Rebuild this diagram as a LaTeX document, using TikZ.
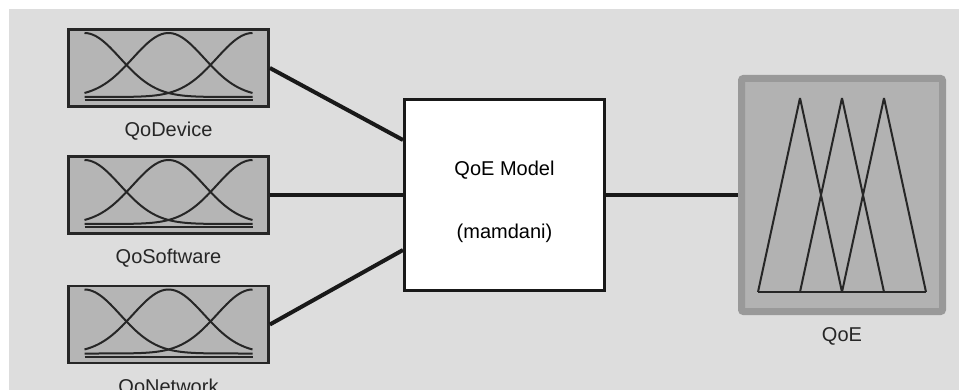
\documentclass[tikz,border=0pt]{standalone}
\usepackage{fontspec}
\setmainfont{Liberation Sans}
\usetikzlibrary{positioning}
\definecolor{panel}{gray}{0.865}
\definecolor{mfgray}{gray}{0.71}
\definecolor{outrim}{gray}{0.6}
\definecolor{outfill}{gray}{0.7}

\begin{document}
\begin{tikzpicture}[
x=0.5pt, y=-0.5pt,
font=\fontsize{10}{12}\selectfont,
inbox/.style={draw=black!85, line width=1.4pt, fill=mfgray,
    minimum width=100pt, minimum height=38.5pt, inner sep=0pt},
outbox/.style={draw=outrim, line width=3.5pt, fill=outfill, rounded corners=1pt,
    minimum width=100.5pt, minimum height=116.5pt, inner sep=0pt},
fisbox/.style={draw=black!90, line width=1.5pt, fill=white, align=center,
    minimum width=100pt, minimum height=95.5pt, inner sep=0pt},
lbl/.style={inner sep=0pt, text=black!85},
mf/.style={draw=black!85, line width=1pt},
wire/.style={draw=black!90, line width=2pt},
]
\useasboundingbox (0,0) rectangle (959,390);
\fill[panel] (9,9) rectangle (959,390);

% inputs
\node[inbox] (dev)  at (168.5,68)    {};
\node[inbox] (soft) at (168.5,195)   {};
\node[inbox] (net)  at (168.5,324.5) {};
\node[lbl] (devlab)  [below=7pt of dev]  {QoDevice};
\node[lbl] (softlab) [below=7pt of soft] {QoSoftware};
\node[lbl] (netlab)  [below=7pt of net]  {QoNetwork};

\foreach \n in {dev,soft,net}{
  \begin{scope}[shift={(\n.center)}]
    \foreach \c in {-84,0,84}
      \draw[mf] plot[domain=-84:84, samples=60, smooth]
        (\x, {29-64*exp(-0.5*((\x-(\c))/35.7)^2)});
    \draw[mf] (-84,32) -- (84,32);
  \end{scope}
}

% inference system
\node[fisbox] (model) at (504.5,195) {\\[2pt]QoE Model\\[19.5pt](mamdani)};

% output
\node[outbox] (qoe) at (842,195) {};
\node[lbl] (qoelab) [below=6pt of qoe] {QoE};
\begin{scope}[shift={(qoe.center)}]
  \draw[mf, line join=bevel] (-84,97) -- (-42,-97) -- (0,97);
  \draw[mf, line join=bevel] (-42,97) -- (0,-97) -- (42,97);
  \draw[mf, line join=bevel] (0,97) -- (42,-97) -- (84,97);
  \draw[mf] (-84,97) -- (84,97);
\end{scope}

\draw[wire] (dev.east) -- ([yshift=27.5pt]model.west);
\draw[wire] (soft.east) -- (model.west);
\draw[wire] (net.east) -- ([yshift=-27.5pt]model.west);
\draw[wire] (model.east) -- (qoe.west);

\end{tikzpicture}
\end{document}
